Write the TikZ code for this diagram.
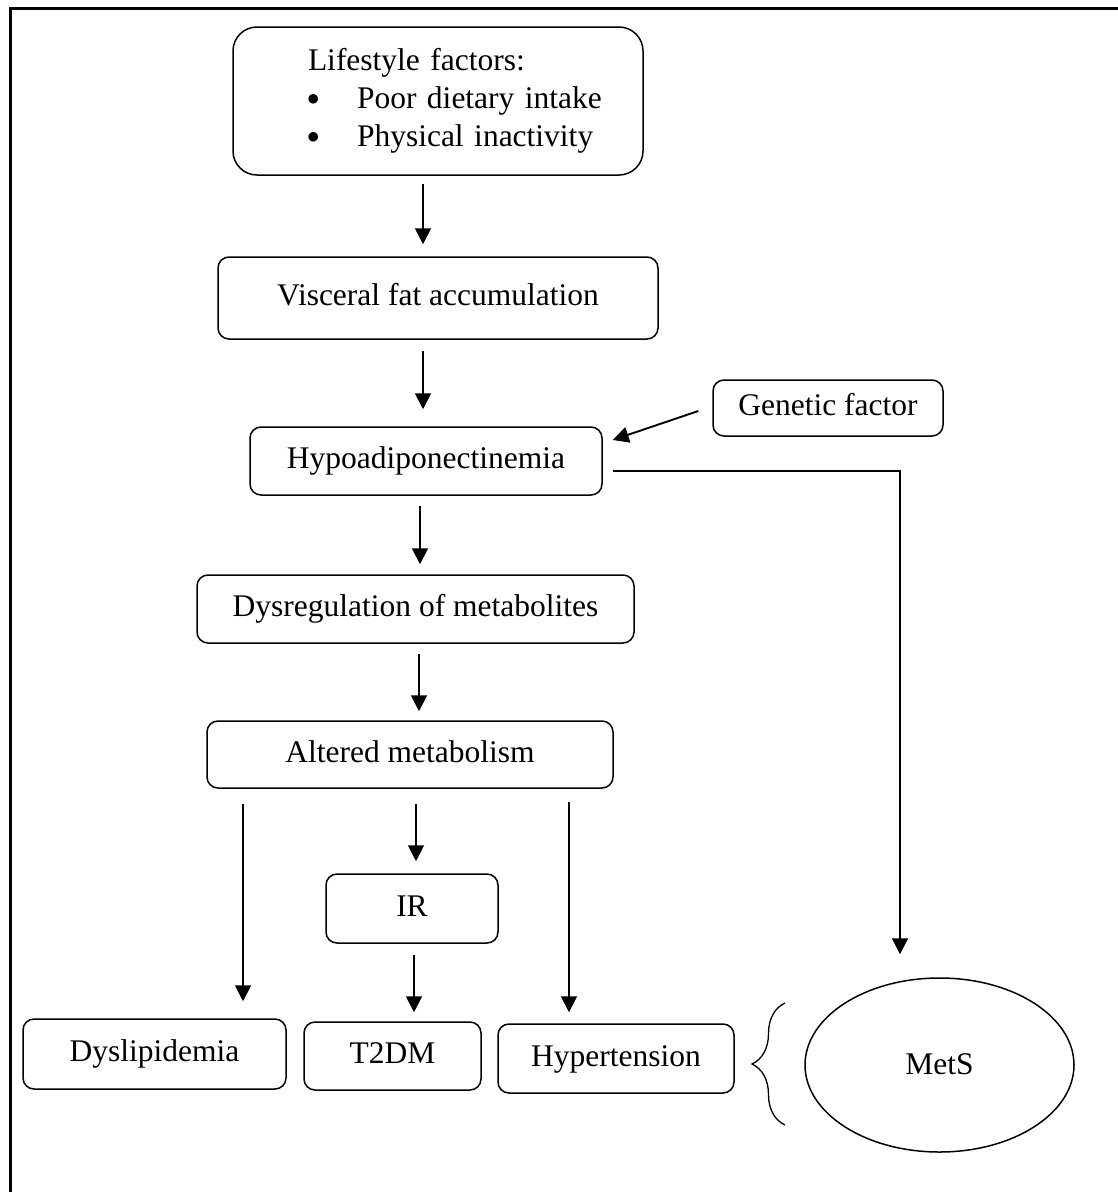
\documentclass[tikz,border=0pt]{standalone}
\usepackage{fontspec}
\setmainfont{Liberation Serif}
\usetikzlibrary{arrows.meta,shapes.geometric,decorations.pathreplacing}
\begin{document}
\begin{tikzpicture}[x=1pt,y=-1pt,
  font=\fontsize{31.5}{38}\selectfont,
  rbox/.style={draw,line width=1.5pt,rounded corners=11pt,inner sep=0pt,text height=22pt,text depth=7pt},
  arr/.style={line width=1.9pt,-{Triangle[length=16pt,width=16pt]}}]
\useasboundingbox (0,0) rectangle (1118,1192);
%frame
\draw[line width=3pt] (10,1192)--(10,8)--(1118,8);

%boxes
\node[draw,line width=1.5pt,rounded corners=24pt,inner sep=0pt,align=left,text width=410pt,minimum height=148pt] (life) at (438,101)
  {\hspace*{75pt}Lifestyle factors:\\
   \hspace*{74pt}\makebox[50pt][l]{\raisebox{3pt}{$\bullet$}}Poor dietary intake\\
   \hspace*{74pt}\makebox[50pt][l]{\raisebox{3pt}{$\bullet$}}Physical inactivity};
\node[rbox,minimum width=440pt,minimum height=82pt] (visc) at (438,298) {Visceral fat accumulation};
\node[rbox,minimum width=352pt,minimum height=68pt] (hypo) at (426,461) {Hypoadiponectinemia};
\node[rbox,minimum width=230pt,minimum height=56pt] (gen) at (828,408) {Genetic factor};
\node[rbox,minimum width=437pt,minimum height=68pt] (dysr) at (415.5,609) {Dysregulation of metabolites};
\node[rbox,minimum width=406pt,minimum height=67pt] (altd) at (410,754.5) {Altered metabolism};
\node[rbox,minimum width=172pt,minimum height=69pt] (ir) at (412,908.5) {IR};
\node[rbox,minimum width=263pt,minimum height=70pt] (dysl) at (154.5,1054) {Dyslipidemia};
\node[rbox,minimum width=177pt,minimum height=68pt] (t2dm) at (392.5,1056) {T2DM};
\node[rbox,minimum width=236pt,minimum height=69pt] (hyp) at (616,1058.5) {Hypertension};
\node[draw,ellipse,line width=1.5pt,inner sep=0pt,minimum width=269pt,minimum height=174pt,text height=22pt,text depth=3pt] (mets) at (939.5,1065) {MetS};

%arrows down
\draw[arr,shorten <=8pt,shorten >=12pt] ([xshift=-15pt]life.south) -- ([xshift=-15pt]visc.north);
\draw[arr,shorten <=11pt,shorten >=17pt] ([xshift=-15pt]visc.south) -- ([xshift=-3pt]hypo.north);
\draw[arr,shorten <=10pt,shorten >=10pt] ([xshift=-6pt]hypo.south) -- ([xshift=4.5pt]dysr.north);
\draw[arr,shorten <=10pt,shorten >=9pt] ([xshift=3.5pt]dysr.south) -- ([xshift=9pt]altd.north);
\draw[arr,shorten <=15pt,shorten >=17pt] ([xshift=-167pt]altd.south) -- ([xshift=88.5pt]dysl.north);
\draw[arr,shorten <=15pt,shorten >=12pt] ([xshift=6pt]altd.south) -- ([xshift=4pt]ir.north);
\draw[arr,shorten <=11pt,shorten >=9pt] ([xshift=2pt]ir.south) -- ([xshift=21.5pt]t2dm.north);
\draw[arr,shorten <=13pt,shorten >=11pt] ([xshift=159pt]altd.south) -- ([xshift=-47pt]hyp.north);

%genetic factor and MetS
\draw[arr] ([xshift=-14pt,yshift=-3pt]gen.west) -- ([xshift=10pt,yshift=21pt]hypo.east);
\coordinate (col) at (900,0);
\draw[arr,shorten >=23pt] ([xshift=10pt,yshift=-10pt]hypo.east) -| (col |- mets.north);

%brace
\draw[line width=1.3pt,decorate,decoration={brace,amplitude=33pt}] (785,1125) -- (785,1003);
\end{tikzpicture}
\end{document}
